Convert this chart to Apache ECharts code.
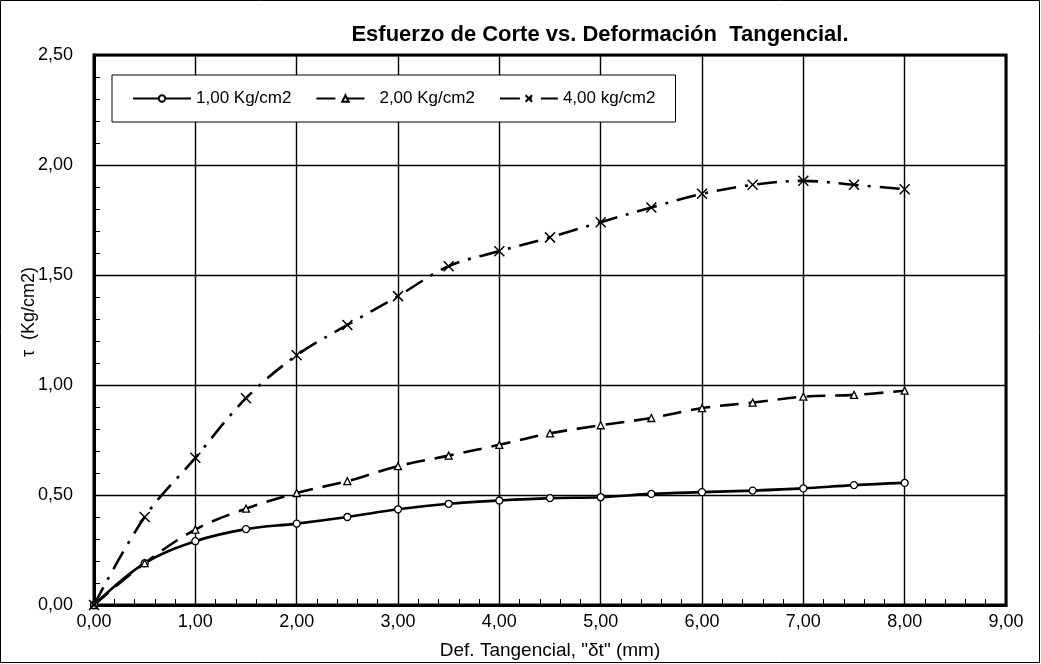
<!DOCTYPE html>
<html>
<head>
<meta charset="utf-8">
<script src="https://cdn.jsdelivr.net/npm/echarts@6/dist/echarts.min.js"></script>
<style>
html,body{margin:0;padding:0;background:#fff;}
#chart{width:1041px;height:664px;}
</style>
</head>
<body>
<div id="chart"></div>
<script>
const xValues = [0, 0.5, 1, 1.5, 2, 2.5, 3, 3.5, 4, 4.5, 5, 5.5, 6, 6.5, 7, 7.5, 8];
const s1Name = '1,00 Kg/cm2';
const s2Name = '2,00 Kg/cm2';
const s3Name = '4,00 kg/cm2';
const s1 = [0, 0.19, 0.29, 0.345, 0.37, 0.40, 0.435, 0.46, 0.475, 0.486, 0.49, 0.505, 0.513, 0.52, 0.53, 0.545, 0.555];
const s2 = [0, 0.19, 0.343, 0.438, 0.509, 0.563, 0.631, 0.679, 0.728, 0.78, 0.817, 0.85, 0.895, 0.92, 0.947, 0.955, 0.974];
const s3 = [0, 0.40, 0.669, 0.94, 1.135, 1.273, 1.404, 1.54, 1.608, 1.671, 1.74, 1.807, 1.869, 1.91, 1.928, 1.91, 1.89];
const titleText = 'Esfuerzo de Corte vs. Deformación  Tangencial.';
const xName = 'Def. Tangencial, "\u03b4t" (mm)';
const yName = '\u03c4  (Kg/cm2)';

const pairs = arr => xValues.map((x, i) => [x, arr[i]]);
const fmt = v => v.toFixed(2).replace('.', ',');
const font = 'Liberation Sans, Arial, sans-serif';

const chart = echarts.init(document.getElementById('chart'));
chart.setOption({
  animation: false,
  backgroundColor: '#fff',
  textStyle: {fontFamily: font, color: '#000'},
  title: {
    text: titleText,
    left: 595, top: 19, textAlign: 'center',
    textStyle: {fontFamily: font, fontSize: 22, fontWeight: 'bold', color: '#000'}
  },
  graphic: [{
    type: 'rect', shape: {x: 0.5, y: 0.5, width: 1039, height: 662},
    style: {fill: 'none', stroke: '#000', lineWidth: 1}, silent: true
  }, {
    type: 'text', x: 29, y: 312, rotation: Math.PI / 2,
    style: {text: yName, fontFamily: font, fontSize: 18, fill: '#000', align: 'center', verticalAlign: 'middle'},
    silent: true
  }],
  legend: {
    left: 112, top: 75,
    padding: [15, 20, 15, 20],
    borderColor: '#000', borderWidth: 1,
    backgroundColor: '#fff',
    itemWidth: 58, itemHeight: 8, itemGap: 24,
    textStyle: {fontFamily: font, fontSize: 17, color: '#000'},
    data: [s1Name, s2Name, s3Name]
  },
  grid: {left: 94, right: 35, top: 55, bottom: 59, show: true, borderColor: '#000', borderWidth: 3, outerBoundsMode: 'none', containLabel: false},
  xAxis: {
    type: 'value', min: 0, max: 9, interval: 1,
    name: xName, nameLocation: 'middle', nameGap: 36,
    nameTextStyle: {fontFamily: font, fontSize: 19, color: '#000'},
    axisLine: {show: true, lineStyle: {color: '#000', width: 3}},
    axisTick: {show: true, inside: true, length: 6, lineStyle: {color: '#000'}},
    minorTick: {show: true, splitNumber: 5, length: 6, lineStyle: {color: '#000', width: 1}},
    splitLine: {show: true, lineStyle: {color: '#000', width: 1.4}},
    axisLabel: {formatter: fmt, fontFamily: font, fontSize: 18, color: '#000', margin: 8}
  },
  yAxis: {
    type: 'value', min: 0, max: 2.5, interval: 0.5,
    axisLine: {show: true, lineStyle: {color: '#000', width: 3}},
    axisTick: {show: true, inside: true, length: 6, lineStyle: {color: '#000'}},
    minorTick: {show: true, splitNumber: 5, length: 6, lineStyle: {color: '#000', width: 1}},
    splitLine: {show: true, lineStyle: {color: '#000', width: 1.4}},
    axisLabel: {formatter: fmt, fontFamily: font, fontSize: 18, color: '#000', margin: 21}
  },
  series: [
    {
      name: s1Name, type: 'line', data: pairs(s1), smooth: 0.35,
      symbol: 'circle', symbolSize: 7,
      itemStyle: {color: '#fff', borderColor: '#000', borderWidth: 1.3},
      lineStyle: {color: '#000', width: 2.6, type: 'solid'},
      z: 3
    },
    {
      name: s2Name, type: 'line', data: pairs(s2), smooth: 0.35,
      symbol: 'triangle', symbolSize: 7,
      itemStyle: {color: '#fff', borderColor: '#000', borderWidth: 1.3},
      lineStyle: {color: '#000', width: 2.6, type: [19, 10]},
      z: 3
    },
    {
      name: s3Name, type: 'line', data: pairs(s3), smooth: 0.35,
      symbol: 'path://M0,0L10,10M10,0L0,10', symbolSize: 10,
      itemStyle: {color: '#fff', borderColor: '#000', borderWidth: 1.5},
      lineStyle: {color: '#000', width: 2.6, type: [20, 9, 3, 9]},
      z: 3
    }
  ]
});
</script>
</body>
</html>
